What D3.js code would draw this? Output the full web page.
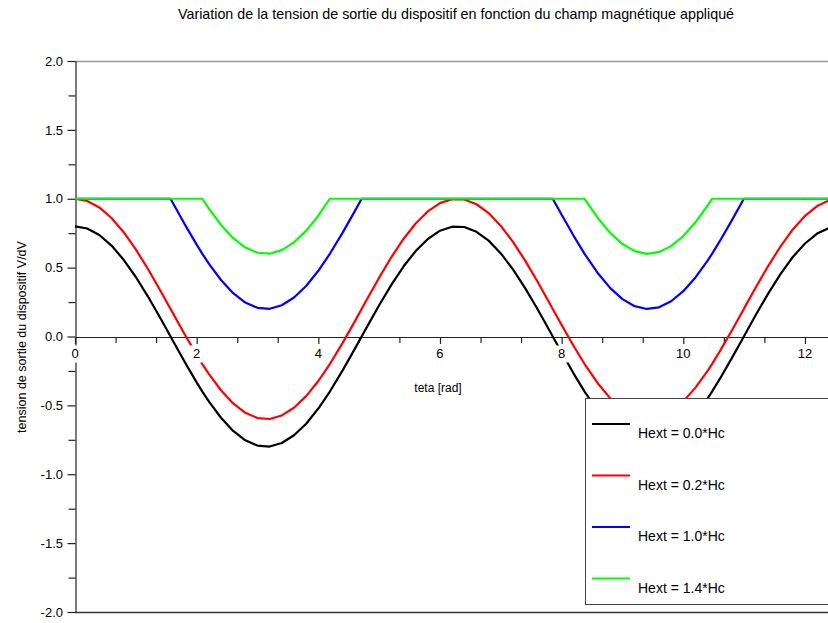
<!DOCTYPE html>
<html>
<head>
<meta charset="utf-8">
<script src="https://cdn.jsdelivr.net/npm/d3@7"></script>
<style>
body { margin: 0; background: #fff; }
svg { display: block; font-family: "Liberation Sans", Arial, sans-serif; }
</style>
</head>
<body>
<svg class="chart"></svg>
<script>

// angle teta [rad] (extra points where the curves hit the 1.0 limit)
const teta = [0, 0.2, 0.4, 0.6, 0.8, 1.0, 1.2, 1.4, 1.571, 1.6, 1.8,
    2.0, 2.094, 2.2, 2.4, 2.6, 2.8, 3.0, 3.2, 3.4, 3.6, 3.8,
    4.0, 4.189, 4.2, 4.4, 4.6, 4.712, 4.8, 5.0, 5.2, 5.4, 5.6, 5.8,
    6.0, 6.2, 6.4, 6.6, 6.8, 7.0, 7.2, 7.4, 7.6, 7.8, 7.854,
    8.0, 8.2, 8.377, 8.4, 8.6, 8.8, 9.0, 9.2, 9.4, 9.6, 9.8,
    10.0, 10.2, 10.4, 10.472, 10.6, 10.8, 10.996, 11.0, 11.2, 11.4, 11.6, 11.8,
    12.0, 12.2, 12.4];

// V/dV, Hext = 0.0*Hc
const v_h00 = [0.800, 0.784, 0.737, 0.660, 0.557, 0.432, 0.290, 0.136, 0.000, -0.023, -0.182,
    -0.333, -0.400, -0.471, -0.590, -0.686, -0.754, -0.792, -0.799, -0.773, -0.717, -0.633,
    -0.523, -0.400, -0.392, -0.246, -0.090, 0.000, 0.070, 0.227, 0.375, 0.508, 0.620, 0.708,
    0.768, 0.797, 0.795, 0.760, 0.696, 0.603, 0.487, 0.351, 0.201, 0.043, 0.000,
    -0.116, -0.271, -0.400, -0.415, -0.543, -0.649, -0.729, -0.780, -0.800, -0.788, -0.744,
    -0.671, -0.571, -0.449, -0.400, -0.308, -0.155, 0.000, 0.004, 0.163, 0.315, 0.455, 0.577,
    0.675, 0.747, 0.789];

// V/dV, Hext = 0.2*Hc
const v_h02 = [1.000, 0.984, 0.937, 0.860, 0.757, 0.632, 0.490, 0.336, 0.200, 0.177, 0.018,
    -0.133, -0.200, -0.271, -0.390, -0.486, -0.554, -0.592, -0.599, -0.573, -0.517, -0.433,
    -0.323, -0.200, -0.192, -0.046, 0.110, 0.200, 0.270, 0.427, 0.575, 0.708, 0.820, 0.908,
    0.968, 0.997, 0.995, 0.960, 0.896, 0.803, 0.687, 0.551, 0.401, 0.243, 0.200,
    0.084, -0.071, -0.200, -0.215, -0.343, -0.449, -0.529, -0.580, -0.600, -0.588, -0.544,
    -0.471, -0.371, -0.249, -0.200, -0.108, 0.045, 0.200, 0.204, 0.363, 0.515, 0.655, 0.777,
    0.875, 0.947, 0.989];

// V/dV, Hext = 1.0*Hc
const v_h10 = [1, 1, 1, 1, 1, 1, 1, 1, 1, 0.977, 0.818,
    0.667, 0.600, 0.529, 0.410, 0.314, 0.246, 0.208, 0.201, 0.227, 0.283, 0.367,
    0.477, 0.600, 0.608, 0.754, 0.910, 1, 1, 1, 1, 1, 1, 1,
    1, 1, 1, 1, 1, 1, 1, 1, 1, 1, 1,
    0.884, 0.729, 0.600, 0.585, 0.457, 0.351, 0.271, 0.220, 0.200, 0.212, 0.256,
    0.329, 0.429, 0.551, 0.600, 0.692, 0.845, 1, 1, 1, 1, 1, 1,
    1, 1, 1];

// V/dV, Hext = 1.4*Hc
const v_h14 = [1, 1, 1, 1, 1, 1, 1, 1, 1, 1, 1,
    1, 1, 0.929, 0.810, 0.714, 0.646, 0.608, 0.601, 0.627, 0.683, 0.767,
    0.877, 1, 1, 1, 1, 1, 1, 1, 1, 1, 1, 1,
    1, 1, 1, 1, 1, 1, 1, 1, 1, 1, 1,
    1, 1, 1, 0.985, 0.857, 0.751, 0.671, 0.620, 0.600, 0.612, 0.656,
    0.729, 0.829, 0.951, 1, 1, 1, 1, 1, 1, 1, 1, 1,
    1, 1, 1];

const series_labels = ["Hext = 0.0*Hc", "Hext = 0.2*Hc", "Hext = 1.0*Hc", "Hext = 1.4*Hc"];
const series_colors = ["#000000", "#ff0000", "#0000ff", "#00ff00"];

const x_ticks = [0, 2, 4, 6, 8, 10, 12];
const x_minor = [0.667, 1.333, 2.667, 3.333, 4.667, 5.333, 6.667, 7.333, 8.667, 9.333, 10.667, 11.333, 12.667];
const y_ticks = [-2.0, -1.5, -1.0, -0.5, 0.0, 0.5, 1.0, 1.5, 2.0];
const y_minor = [-1.75, -1.25, -0.75, -0.25, 0.25, 0.75, 1.25, 1.75];

const title = "Variation de la tension de sortie du dispositif en fonction du champ magnétique appliqué";
const x_title = "teta [rad]";
const y_title = "tension de sortie du dispositif V/dV";

chart = {
    width: 828,
    height: 623,
    left: 75,
    top: 61,
    bottom: 612,
    svg: null,
};

function draw_chart() {
    const svg = d3.select("svg.chart")
        .attr("width", chart.width)
        .attr("height", chart.height);
    chart.svg = svg;

    const x = d3.scaleLinear().domain([0, 4 * Math.PI]).range([chart.left, chart.left + 60.83 * 4 * Math.PI]);
    const y = d3.scaleLinear().domain([-2, 2]).range([chart.bottom, chart.top]);

    // frame lines (top one is grey in scilab)
    svg.append("line")
        .attr("x1", chart.left).attr("x2", chart.width)
        .attr("y1", chart.top + 0.5).attr("y2", chart.top + 0.5)
        .attr("stroke", "#999").attr("stroke-width", 1.5);
    svg.append("line")
        .attr("x1", chart.left).attr("x2", chart.width)
        .attr("y1", chart.bottom + 0.5).attr("y2", chart.bottom + 0.5)
        .attr("stroke", "#333").attr("stroke-width", 1.5);

    // y axis
    const y_axis = svg.append("g")
        .attr("class", "y-axis")
        .attr("transform", "translate(" + (chart.left + 0.5) + ",0)");
    y_axis.call(d3.axisLeft(y).tickValues(y_ticks).tickSize(8).tickSizeOuter(0).tickFormat(""));
    y_axis.append("g").call(d3.axisLeft(y).tickValues(y_minor).tickSize(7).tickSizeOuter(0).tickFormat(""))
        .select(".domain").remove();

    // x axis goes through y = 0
    const x_axis = svg.append("g")
        .attr("class", "x-axis")
        .attr("transform", "translate(0," + (y(0) + 0.5) + ")");
    x_axis.call(d3.axisBottom(x).tickValues(x_ticks).tickSize(7).tickSizeOuter(0).tickFormat(""));
    x_axis.append("g").call(d3.axisBottom(x).tickValues(x_minor).tickSize(6).tickSizeOuter(0).tickFormat(""))
        .select(".domain").remove();

    svg.selectAll(".x-axis path, .x-axis line, .y-axis path, .y-axis line")
        .attr("stroke", "#222").attr("stroke-width", 1.2);

    // curves
    const all_series = [v_h00, v_h02, v_h10, v_h14];
    const line = d3.line()
        .x((d, i) => x(teta[i]))
        .y((d) => y(d));

    svg.append("g")
        .attr("class", "curves")
        .selectAll("path")
        .data(all_series)
        .enter().append("path")
            .attr("d", line)
            .attr("fill", "none")
            .attr("stroke", (d, i) => series_colors[i])
            .attr("stroke-width", 2.2)
            .attr("stroke-linejoin", "round");

    // tick labels, drawn over the curves with a white box like scilab does
    const x_labels = svg.append("g").attr("class", "x-labels")
        .selectAll("g")
        .data(x_ticks)
        .enter().append("g")
            .attr("transform", (d) => "translate(" + x(d) + "," + (y(0) + 21) + ")");
    x_labels.append("rect")
        .attr("x", (d) => -String(d).length * 4 - 3).attr("y", -12)
        .attr("width", (d) => String(d).length * 8 + 6).attr("height", 17)
        .attr("fill", "#fff");
    x_labels.append("text")
        .attr("text-anchor", "middle")
        .attr("font-size", 13)
        .text((d) => d);

    svg.append("g").attr("class", "y-labels")
        .selectAll("text")
        .data(y_ticks)
        .enter().append("text")
            .attr("x", chart.left - 12)
            .attr("y", (d) => y(d))
            .attr("dy", "0.36em")
            .attr("text-anchor", "end")
            .attr("font-size", 13)
            .text((d) => d3.format(".1f")(d).replace("−", "-"));

    // titles
    svg.append("text")
        .attr("x", 456).attr("y", 19)
        .attr("text-anchor", "middle")
        .attr("font-size", 14.3)
        .text(title);
    svg.append("text")
        .attr("x", 438).attr("y", 392)
        .attr("text-anchor", "middle")
        .attr("font-size", 12)
        .text(x_title);
    svg.append("text")
        .attr("transform", "translate(26,337) rotate(-90)")
        .attr("text-anchor", "middle")
        .attr("font-size", 12.5)
        .text(y_title);

    // legend
    const legend = svg.append("g").attr("class", "legend");
    legend.append("rect")
        .attr("x", 585.5).attr("y", 398.5)
        .attr("width", 260).attr("height", 206)
        .attr("fill", "#fff")
        .attr("stroke", "#444");
    const entry = legend.selectAll("g.entry")
        .data(series_labels)
        .enter().append("g")
            .attr("class", "entry")
            .attr("transform", (d, i) => "translate(592," + (424 + i * 51.5) + ")");
    entry.append("line")
        .attr("x1", 0).attr("x2", 38)
        .attr("stroke", (d, i) => series_colors[i])
        .attr("stroke-width", 2.2);
    entry.append("text")
        .attr("x", 46).attr("y", 14)
        .attr("font-size", 14)
        .text((d) => d);
}

draw_chart();
</script>
</body>
</html>
